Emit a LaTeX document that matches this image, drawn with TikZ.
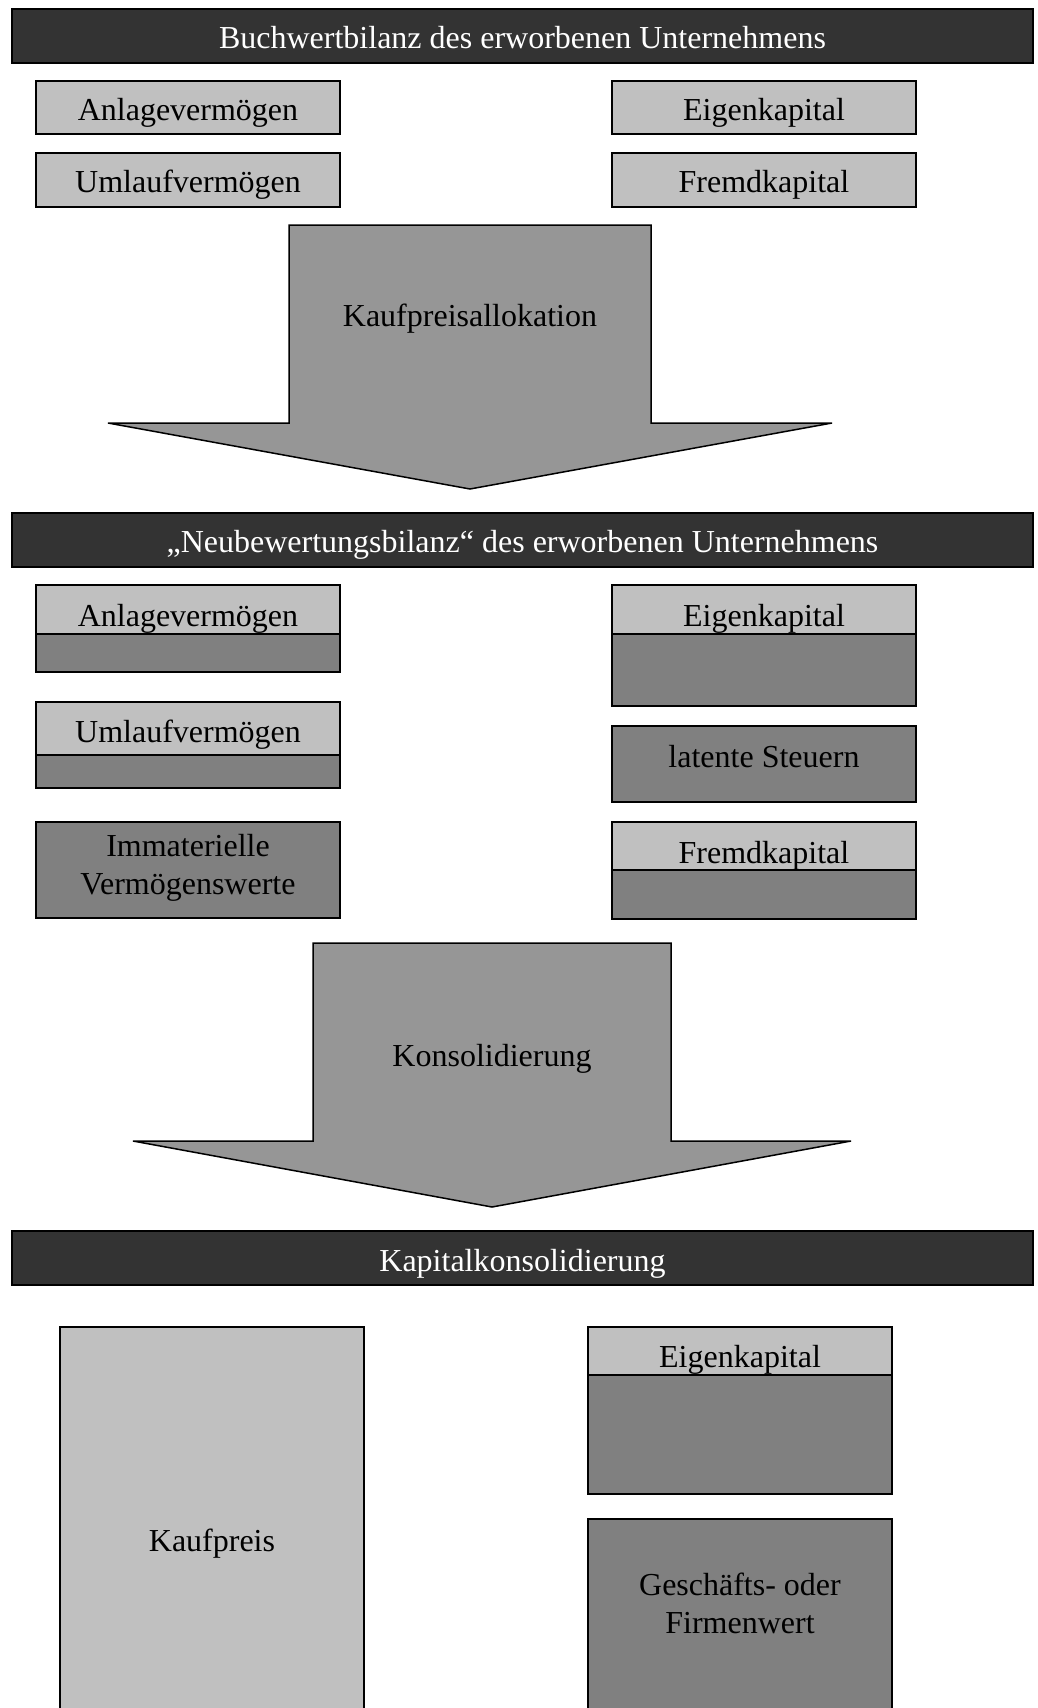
\documentclass[tikz,border=0pt]{standalone}
\usepackage{fontspec}
\setmainfont{Liberation Serif}
\definecolor{hdr}{HTML}{333333}
\definecolor{lightg}{HTML}{C0C0C0}
\definecolor{darkg}{HTML}{808080}
\definecolor{arrg}{HTML}{969696}
\tikzset{
  box/.style={draw=black, line width=1.5pt, inner sep=0pt, outer sep=0pt, anchor=north west, rectangle},
  hdrbox/.style={box, fill=hdr, minimum width=1021pt, minimum height=54pt},
  lbox/.style={box, fill=lightg},
  dbox/.style={box, fill=darkg},
  bigarrow/.style={draw=black, line width=1.5pt, fill=arrg, line join=miter},
  txt/.style={font=\fontsize{32}{38}\selectfont, inner sep=0pt, anchor=base, align=center, text=black},
  htxt/.style={txt, text=white},
}
\begin{document}
\begin{tikzpicture}[x=1pt,y=-1pt]
\useasboundingbox (0,0) rectangle (1038,1708);
\clip (0,0) rectangle (1038,1708);
% ---------- section 1 ----------
\node[hdrbox] (h1) at (12,9) {};
\node[htxt] (h1t) at (522.5,48) {Buchwertbilanz des erworbenen Unternehmens};
\node[lbox, minimum width=304pt, minimum height=53pt] (av1) at (36,81) {};
\node[txt] (av1t) at (188,120) {Anlagevermögen};
\node[lbox, minimum width=304pt, minimum height=54pt] (uv1) at (36,153) {};
\node[txt] (uv1t) at (188,192) {Umlaufvermögen};
\node[lbox, minimum width=304pt, minimum height=53pt] (ek1) at (612,81) {};
\node[txt] (ek1t) at (764,120) {Eigenkapital};
\node[lbox, minimum width=304pt, minimum height=54pt] (fk1) at (612,153) {};
\node[txt] (fk1t) at (764,192) {Fremdkapital};
% arrow 1
\draw[bigarrow] (289,225) -- (651,225) -- (651,423) -- (832,423) -- (470,489) -- (108,423) -- (289,423) -- cycle;
\node[txt] (a1t) at (470,326) {Kaufpreisallokation};
% ---------- section 2 ----------
\node[hdrbox] (h2) at (12,513) {};
\node[htxt] (h2t) at (522.5,552) {„Neubewertungsbilanz“ des erworbenen Unternehmens};
\node[dbox, minimum width=304pt, minimum height=87pt] (av2) at (36,585) {};
\node[lbox, minimum width=304pt, minimum height=49pt] (av2top) at (36,585) {};
\node[txt] (av2t) at (188,626) {Anlagevermögen};
\node[dbox, minimum width=304pt, minimum height=86pt] (uv2) at (36,702) {};
\node[lbox, minimum width=304pt, minimum height=53pt] (uv2top) at (36,702) {};
\node[txt] (uv2t) at (188,742) {Umlaufvermögen};
\node[dbox, minimum width=304pt, minimum height=96pt] (imm) at (36,822) {};
\node[txt] (immt) at (188,894) {Immaterielle\\Vermögenswerte};
\node[dbox, minimum width=304pt, minimum height=121pt] (ek2) at (612,585) {};
\node[lbox, minimum width=304pt, minimum height=49pt] (ek2top) at (612,585) {};
\node[txt] (ek2t) at (764,626) {Eigenkapital};
\node[dbox, minimum width=304pt, minimum height=76pt] (lst) at (612,726) {};
\node[txt] (lstt) at (764,767) {latente Steuern};
\node[dbox, minimum width=304pt, minimum height=97pt] (fk2) at (612,822) {};
\node[lbox, minimum width=304pt, minimum height=48pt] (fk2top) at (612,822) {};
\node[txt] (fk2t) at (764,863) {Fremdkapital};
% arrow 2
\draw[bigarrow] (313,943) -- (671,943) -- (671,1141) -- (851,1141) -- (492,1207) -- (133,1141) -- (313,1141) -- cycle;
\node[txt] (a2t) at (492,1066) {Konsolidierung};
% ---------- section 3 ----------
\node[hdrbox] (h3) at (12,1231) {};
\node[htxt] (h3t) at (522.5,1271) {Kapitalkonsolidierung};
\node[lbox, minimum width=304pt, minimum height=420pt] (kp) at (60,1327) {};
\node[txt] (kpt) at (212,1551) {Kaufpreis};
\node[dbox, minimum width=304pt, minimum height=167pt] (ek3) at (588,1327) {};
\node[lbox, minimum width=304pt, minimum height=48pt] (ek3top) at (588,1327) {};
\node[txt] (ek3t) at (740,1367) {Eigenkapital};
\node[dbox, minimum width=304pt, minimum height=230pt] (gfw) at (588,1519) {};
\node[txt] (gfwt) at (740,1633) {Geschäfts- oder\\Firmenwert};
\end{tikzpicture}
\end{document}
